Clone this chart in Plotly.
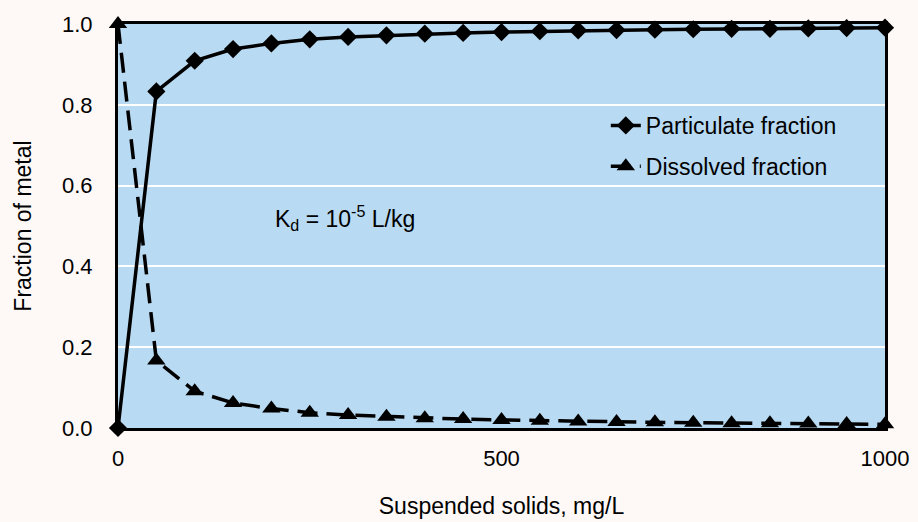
import plotly.graph_objects as go

# Suspended solids concentration (mg/L)
solids = [0, 50, 100, 150, 200, 250, 300, 350, 400, 450, 500,
          550, 600, 650, 700, 750, 800, 850, 900, 950, 1000]

# Fraction of metal bound to particles
particulate = [0.0, 0.833, 0.909, 0.938, 0.952, 0.962, 0.968, 0.972, 0.976, 0.978, 0.980,
               0.982, 0.984, 0.985, 0.986, 0.987, 0.988, 0.988, 0.989, 0.990, 0.991]

# Fraction of metal remaining in solution
dissolved = [1.0, 0.167, 0.091, 0.062, 0.048, 0.038, 0.032, 0.028, 0.024, 0.022, 0.020,
             0.018, 0.016, 0.015, 0.014, 0.013, 0.012, 0.012, 0.011, 0.010, 0.009]

y_ticks = [0.0, 0.2, 0.4, 0.6, 0.8, 1.0]
x_ticks = [0, 500, 1000]

FONT = "Liberation Sans, Arial, sans-serif"
PAGE_BG = "#FEF9F6"
PLOT_BG = "#B8DAF2"

fig = go.Figure()

fig.add_trace(go.Scatter(
    x=solids, y=particulate, name="Particulate fraction",
    mode="lines+markers", legendgroup="p",
    line=dict(color="black", width=3.5),
    marker=dict(symbol="diamond", size=14, color="black"),
    cliponaxis=False,
))

fig.add_trace(go.Scatter(
    x=solids, y=dissolved, name="Dissolved fraction",
    mode="lines+markers", legendgroup="d",
    line=dict(color="black", width=3.5, dash="20px,9px"),
    marker=dict(symbol="triangle-up", size=16, color="black"),
    cliponaxis=False,
))

fig.add_annotation(
    x=296, y=0.52, xref="x", yref="y",
    text="K<sub>d</sub> = 10<sup>-5</sup> L/kg",
    showarrow=False, font=dict(family=FONT, size=23, color="black"),
)

fig.update_layout(
    width=918, height=522,
    margin=dict(l=118, r=33, t=24, b=94),
    paper_bgcolor=PAGE_BG, plot_bgcolor=PLOT_BG,
    font=dict(family=FONT, size=22, color="black"),
    showlegend=True,
    legend=dict(
        x=0.636, y=0.802, xanchor="left", yanchor="top",
        bgcolor="rgba(0,0,0,0)", tracegroupgap=8,
        font=dict(family=FONT, size=23, color="black"),
    ),
    xaxis=dict(
        range=[0, 1000], tickvals=x_ticks, ticktext=[str(v) for v in x_ticks],
        showgrid=False, zeroline=False, automargin=False,
        showline=True, linecolor="black", linewidth=3, mirror=True,
        ticks="", ticklabelstandoff=9, tickfont=dict(size=22),
        title=dict(text="Suspended solids, mg/L", standoff=28,
                   font=dict(family=FONT, size=23)),
    ),
    yaxis=dict(
        range=[0, 1], tickvals=y_ticks, ticktext=[f"{v:.1f}" for v in y_ticks],
        showgrid=True, gridcolor="white", gridwidth=2, zeroline=False,
        automargin=False,
        showline=True, linecolor="black", linewidth=3, mirror=True,
        ticks="", ticklabelstandoff=18, tickfont=dict(size=22),
        title=dict(text="Fraction of metal", standoff=24,
                   font=dict(family=FONT, size=23)),
    ),
)

fig.write_html("out.html")
